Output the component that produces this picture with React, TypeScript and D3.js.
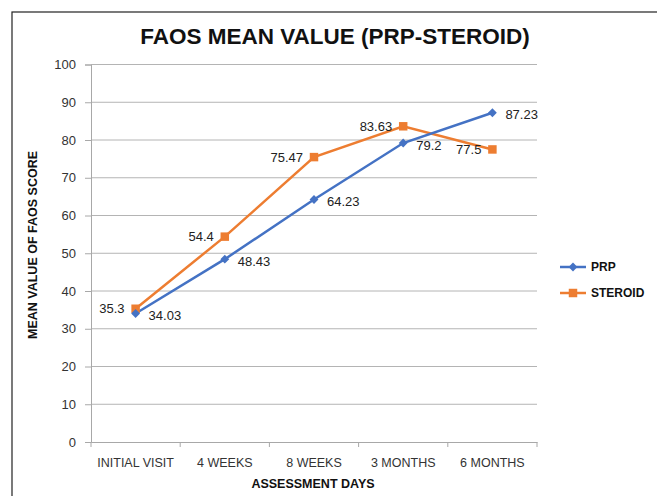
import { useEffect, useRef } from 'react'
import * as d3 from 'd3'

const CATEGORIES = ['INITIAL VISIT', '4 WEEKS', '8 WEEKS', '3 MONTHS', '6 MONTHS']
const PRP = [34.03, 48.43, 64.23, 79.2, 87.23]
const STEROID = [35.3, 54.4, 75.47, 83.63, 77.5]
const Y_TICKS = [0, 10, 20, 30, 40, 50, 60, 70, 80, 90, 100]

const W = 657
const H = 496
const FONT = 'Liberation Sans, Arial, sans-serif'
const BLUE = '#4472c4'
const ORANGE = '#ed7d31'

export default function App() {
  const ref = useRef<SVGSVGElement | null>(null)

  useEffect(() => {
    if (!ref.current) return
    const svg = d3.select(ref.current)
    svg.selectAll('*').remove()

    svg.append('rect').attr('width', W).attr('height', H).attr('fill', '#fff')
    // frame
    svg.append('rect')
      .attr('x', 12).attr('y', 12).attr('width', W + 20).attr('height', H + 20)
      .attr('fill', 'none').attr('stroke', '#222').attr('stroke-width', 1.2)

    const left = 91
    const right = 537
    const top = 64.5
    const bottom = 442

    const x = d3.scaleBand<string>().domain(CATEGORIES).range([left, right])
    const y = d3.scaleLinear().domain([0, 100]).range([bottom, top])
    const cx = (c: string) => (x(c) as number) + x.bandwidth() / 2

    // gridlines
    svg.append('g').selectAll('line').data(Y_TICKS.filter((t) => t > 0)).join('line')
      .attr('x1', left).attr('x2', right)
      .attr('y1', (d) => y(d)).attr('y2', (d) => y(d))
      .attr('stroke', '#b4b4b4').attr('stroke-width', 1)

    // y axis
    const yAxis = svg.append('g').attr('transform', `translate(${left},0)`)
      .call(d3.axisLeft(y).tickValues(Y_TICKS).tickSize(6).tickPadding(9))
    yAxis.select('.domain').attr('stroke', '#a8a8a8')
    yAxis.selectAll('.tick line').attr('stroke', '#a8a8a8')
    yAxis.selectAll('.tick text').attr('font-family', FONT).attr('font-size', 13)
      .attr('fill', '#333')

    // x axis
    const xAxis = svg.append('g').attr('transform', `translate(0,${bottom})`)
      .call(d3.axisBottom(x).tickSize(0).tickPadding(16))
    xAxis.select('.domain').attr('stroke', '#a8a8a8')
    xAxis.selectAll('.tick text').attr('font-family', FONT).attr('font-size', 12.5)
      .attr('fill', '#333')
    svg.append('g').selectAll('line').data([...CATEGORIES.map((c) => x(c) as number), right]).join('line')
      .attr('x1', (d) => d).attr('x2', (d) => d)
      .attr('y1', bottom).attr('y2', bottom + 5)
      .attr('stroke', '#a8a8a8')

    const line = d3.line<number>().x((_, i) => cx(CATEGORIES[i])).y((d) => y(d))

    // series
    svg.append('path').datum(STEROID).attr('d', line)
      .attr('fill', 'none').attr('stroke', ORANGE).attr('stroke-width', 2.5)
    svg.append('path').datum(PRP).attr('d', line)
      .attr('fill', 'none').attr('stroke', BLUE).attr('stroke-width', 2.5)

    const square = d3.symbol().type(d3.symbolSquare).size(72)
    const diamond = d3.symbol().type(d3.symbolDiamond2).size(50)

    svg.append('g').selectAll('path').data(STEROID).join('path')
      .attr('d', square)
      .attr('transform', (d, i) => `translate(${cx(CATEGORIES[i])},${y(d)})`)
      .attr('fill', ORANGE)
    svg.append('g').selectAll('path').data(PRP).join('path')
      .attr('d', diamond)
      .attr('transform', (d, i) => `translate(${cx(CATEGORIES[i])},${y(d)})`)
      .attr('fill', BLUE)

    // data labels
    svg.append('g').selectAll('text').data(STEROID).join('text')
      .attr('x', (_, i) => cx(CATEGORIES[i]) - 11)
      .attr('y', (d) => y(d))
      .attr('dy', '0.35em')
      .attr('text-anchor', 'end')
      .attr('font-family', FONT).attr('font-size', 13).attr('fill', '#222')
      .text((d) => String(d))
    svg.append('g').selectAll('text').data(PRP).join('text')
      .attr('x', (_, i) => cx(CATEGORIES[i]) + 13)
      .attr('y', (d) => y(d) + 2)
      .attr('dy', '0.35em')
      .attr('font-family', FONT).attr('font-size', 13).attr('fill', '#222')
      .text((d) => String(d))

    // title
    svg.append('text')
      .attr('x', 335).attr('y', 44)
      .attr('text-anchor', 'middle')
      .attr('font-family', FONT).attr('font-size', 22.5).attr('font-weight', 'bold')
      .attr('fill', '#111')
      .text('FAOS MEAN VALUE (PRP-STEROID)')

    // axis titles
    svg.append('text')
      .attr('transform', `translate(37,245) rotate(-90)`)
      .attr('text-anchor', 'middle')
      .attr('font-family', FONT).attr('font-size', 12.5).attr('font-weight', 'bold')
      .attr('fill', '#111')
      .text('MEAN VALUE OF FAOS SCORE')
    svg.append('text')
      .attr('x', 313).attr('y', 488)
      .attr('text-anchor', 'middle')
      .attr('font-family', FONT).attr('font-size', 12.5).attr('font-weight', 'bold')
      .attr('fill', '#111')
      .text('ASSESSMENT DAYS')

    // legend
    const legend = [
      { name: 'PRP', color: BLUE, sym: diamond, yy: 267 },
      { name: 'STEROID', color: ORANGE, sym: square, yy: 293 }
    ]
    const lg = svg.append('g')
    legend.forEach((l) => {
      lg.append('line').attr('x1', 560).attr('x2', 586).attr('y1', l.yy).attr('y2', l.yy)
        .attr('stroke', l.color).attr('stroke-width', 2.5)
      lg.append('path').attr('d', l.sym).attr('transform', `translate(573,${l.yy})`).attr('fill', l.color)
      lg.append('text').attr('x', 591).attr('y', l.yy).attr('dy', '0.35em')
        .attr('font-family', FONT).attr('font-size', 12).attr('font-weight', 600)
        .attr('fill', '#111').text(l.name)
    })
  }, [])

  return (
    <svg
      ref={ref}
      width={W}
      height={H}
      style={{ position: 'absolute', left: 0, top: 0, display: 'block' }}
    />
  )
}
